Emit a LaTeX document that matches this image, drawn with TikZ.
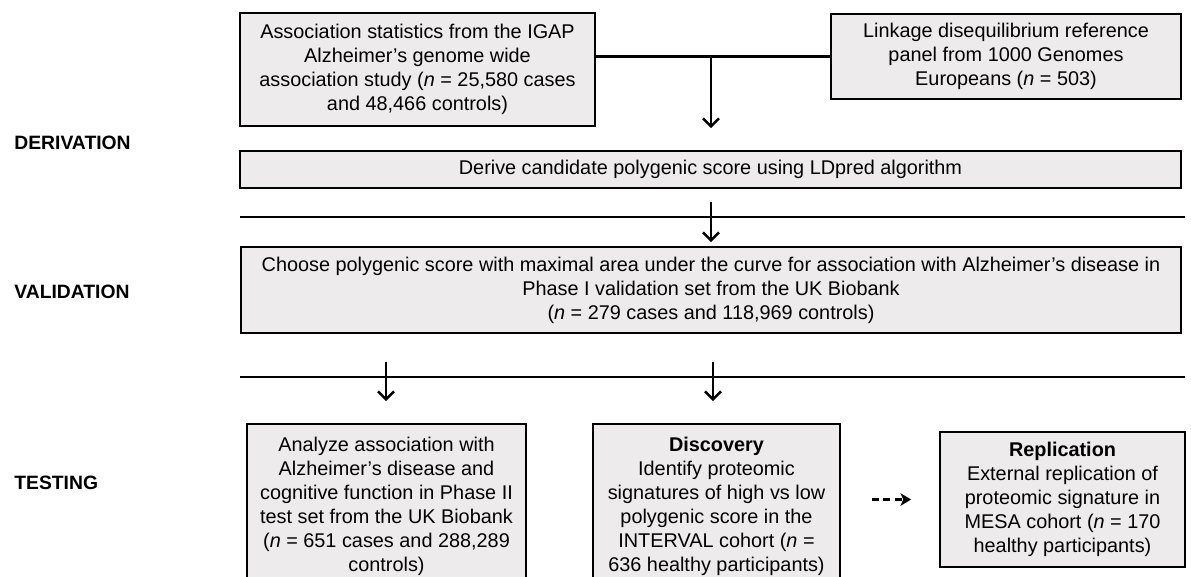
\documentclass[tikz,border=0pt]{standalone}
\usepackage{fontspec}
\setmainfont{Liberation Sans}
\usetikzlibrary{positioning,arrows.meta,calc}

\definecolor{boxgray}{RGB}{237,235,235}

\begin{document}
\begin{tikzpicture}[
  x=0.02cm, y=-0.02cm,
  block/.style={draw, line width=1pt, fill=boxgray, align=center, inner sep=2pt,
    font=\fontsize{11.3}{13.7}\selectfont},
  arr/.style={-{Straight Barb[length=4.5pt,width=9pt]}, line width=1.4pt},
  dasharr/.style={-{Stealth[length=6pt,width=7pt,inset=1.5pt]}, line width=1.6pt, dash pattern=on 4pt off 2.5pt},
  bar/.style={line width=1.5pt},
  phase/.style={anchor=west, inner sep=0pt, font=\fontsize{11}{13}\selectfont\bfseries}
]
\useasboundingbox (0,0) rectangle (1191,576);
\clip (0,0) rectangle (1191,576);

% phase labels
\node[phase] (derivation) at (14,143) {DERIVATION};
\node[phase] (validation) at (14,292) {VALIDATION};
\node[phase] (testing) at (14,483) {TESTING};

% derivation
\node[block, minimum width=7.1cm, minimum height=2.26cm] (igap) at (417.5,69.5)
  {Association statistics from the IGAP\\ Alzheimer's genome wide\\
   association study (\textit{n} = 25,580 cases\\ and 48,466 controls)};
\node[block, minimum width=7.0cm, minimum height=1.7cm] (ldref) at (1006,56.5)
  {Linkage disequilibrium reference\\ panel from 1000 Genomes\\ Europeans (\textit{n} = 503)};
\node[block, minimum width=18.82cm, minimum height=0.74cm] (derive) at (710.5,169.5)
  {Derive candidate polygenic score using LDpred algorithm};

% validation
\node[block, minimum width=18.8cm, minimum height=1.72cm] (choose) at (711,290)
  {Choose polygenic score with maximal area under the curve for association with Alzheimer's disease in\\
   Phase I validation set from the UK Biobank\\ (\textit{n} = 279 cases and 118,969 controls)};

% testing
\node[block, anchor=north, minimum width=5.58cm, minimum height=3.3cm] (analyze) at (386.5,423)
  {Analyze association with\\ Alzheimer's disease and\\ cognitive function in Phase II\\
   test set from the UK Biobank\\ (\textit{n} = 651 cases and 288,289\\ controls)};
\node[block, anchor=north, minimum width=4.94cm, minimum height=3.3cm] (discovery) at (716.5,423)
  {\textbf{Discovery}\\ Identify proteomic\\ signatures of high vs low\\ polygenic score in the\\
   INTERVAL cohort (\textit{n} =\\ 636 healthy participants)};
\node[block, minimum width=4.9cm, minimum height=2.7cm] (replication) at (1062.5,499.5)
  {\textbf{Replication}\\ External replication of\\ proteomic signature in\\
   MESA cohort (\textit{n} = 170\\ healthy participants)};

% junctions and bars
\coordinate (j1) at (711,57);
\coordinate (a1) at (711,128);
\coordinate (bar1l) at (240,217);
\coordinate (bar1r) at (1185,217);
\coordinate (s2) at (711,202);
\coordinate (a2) at (711,242);
\coordinate (bar2l) at (240,377);
\coordinate (bar2r) at (1185,377);
\coordinate (s3) at (386,362);
\coordinate (a3) at (386,401);
\coordinate (s4) at (713,362);
\coordinate (a4) at (713,401);

% connectors
\draw[bar] (igap.east |- ldref.west) -- (ldref.west);
\draw[arr] (j1) -- (a1);
\draw[bar] (bar1l) -- (bar1r);
\draw[arr] (s2) -- (a2);
\draw[bar] (bar2l) -- (bar2r);
\draw[arr] (s3) -- (a3);
\draw[arr] (s4) -- (a4);
\draw[dasharr, shorten <=0.62cm, shorten >=0.56cm] (discovery.east |- replication.west) -- (replication.west);

\end{tikzpicture}
\end{document}
